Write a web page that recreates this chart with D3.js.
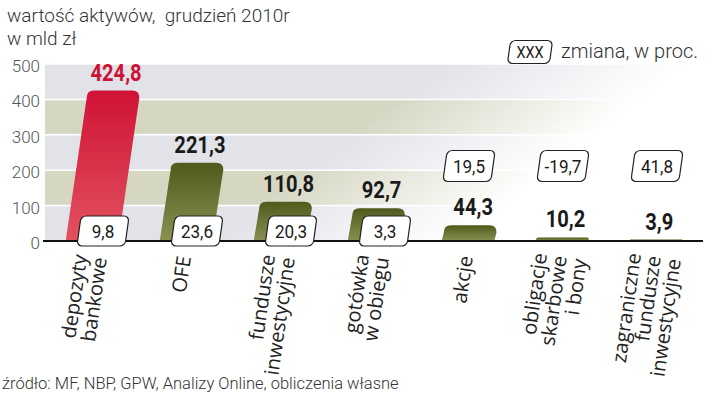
<!DOCTYPE html>
<html>
<head>
<meta charset="utf-8">
<script src="https://cdn.jsdelivr.net/npm/d3@7"></script>
<style>
  html, body { margin: 0; padding: 0; background: #fff; }
  svg { display: block; font-family: Roboto, "Noto Sans", sans-serif; }
  .pre { white-space: pre; }
</style>
</head>
<body>
<svg id="viz" width="720" height="399"></svg>
<script>
// ----- data -----
const categories = [
  ["depozyty", "bankowe"],
  ["OFE"],
  ["fundusze", "inwestycyjne"],
  ["gotówka", "w obiegu"],
  ["akcje"],
  ["obligacje", "skarbowe", "i bony"],
  ["zagraniczne", "fundusze", "inwestycyjne"]
];
const values  = [424.8, 221.3, 110.8, 92.7, 44.3, 10.2, 3.9];
const changes = [9.8, 23.6, 20.3, 3.3, 19.5, -19.7, 41.8];
const yTicks  = [0, 100, 200, 300, 400, 500];

const fmt = v => String(v).replace(".", ",");
const svg = d3.select("#viz");

// plot area
const plotL = 45, plotR = 703, base = 241, plotT = 64;
const keys = categories.map(c => c.join(" "));
const x = d3.scaleBand().domain(keys).range([plotL, plotR]).paddingInner(0.44).paddingOuter(0.22);
const y = d3.scaleLinear().domain([0, 500]).range([base, plotT]);
const slant = 0.14;   // bars lean to the right

// ----- defs: gradients + fade mask -----
const defs = svg.append("defs");
function vGrad(id, c0, c1) {
  const g = defs.append("linearGradient").attr("id", id)
    .attr("x1", 0).attr("y1", 0).attr("x2", 0).attr("y2", 1);
  g.append("stop").attr("offset", "0%").attr("stop-color", c0);
  g.append("stop").attr("offset", "100%").attr("stop-color", c1);
}
vGrad("gRed", "#cf1236", "#e2525f");
vGrad("gOlive", "#4f5a1c", "#8a9152");

const fade = defs.append("linearGradient").attr("id", "fade")
  .attr("gradientUnits", "userSpaceOnUse")
  .attr("x1", 194).attr("y1", 255).attr("x2", 284).attr("y2", 373);
fade.append("stop").attr("offset", "0%").attr("stop-color", "#fff");
fade.append("stop").attr("offset", "100%").attr("stop-color", "#000");
defs.append("mask").attr("id", "fadeMask")
  .attr("maskUnits", "userSpaceOnUse")
  .attr("x", 0).attr("y", 0).attr("width", 720).attr("height", 399)
  .append("rect").attr("x", 0).attr("y", 0).attr("width", 720).attr("height", 399)
  .attr("fill", "url(#fade)");

// ----- background bands -----
const bands = svg.append("g").attr("mask", "url(#fadeMask)");
bands.selectAll("rect").data(d3.range(5)).join("rect")
  .attr("x", plotL).attr("width", plotR - plotL)
  .attr("y", i => y((i + 1) * 100)).attr("height", i => y(i * 100) - y((i + 1) * 100))
  .attr("fill", i => i % 2 === 0 ? "#e1e3e9" : "#d6d7c3");

// white gridlines
svg.append("g").selectAll("line").data(yTicks.slice(1)).join("line")
  .attr("x1", plotL).attr("x2", plotR)
  .attr("y1", d => y(d)).attr("y2", d => y(d))
  .attr("stroke", "#fff").attr("stroke-width", 1.5);

// y tick labels
svg.append("g").selectAll("text").data(yTicks).join("text")
  .attr("x", 40).attr("y", d => y(d) + 8)
  .attr("text-anchor", "end")
  .attr("font-size", 17).attr("font-weight", 300).attr("fill", "#555")
  .text(d => d);

// ----- bars -----
function barPath(cx, w, h, r) {
  // skewed column with rounded top corners
  const x0 = cx - w / 2, s = slant * h;
  const p = d3.path();
  p.moveTo(x0, base);
  p.lineTo(x0 + s, base - h + r);
  p.quadraticCurveTo(x0 + s, base - h, x0 + s + r, base - h);
  p.lineTo(x0 + s + w - r, base - h);
  p.quadraticCurveTo(x0 + s + w, base - h, x0 + s + w, base - h + r);
  p.lineTo(x0 + w, base);
  p.closePath();
  return p.toString();
}

const bw = x.bandwidth();
svg.append("g").selectAll("path").data(values).join("path")
  .attr("d", (d, i) => barPath(x(keys[i]) + bw / 2, bw, base - y(d), Math.min(7, (base - y(d)) / 2)))
  .attr("fill", (d, i) => i === 0 ? "url(#gRed)" : "url(#gOlive)");

// baseline
svg.append("line")
  .attr("x1", 43).attr("x2", plotR).attr("y1", base).attr("y2", base)
  .attr("stroke", "#111").attr("stroke-width", 2);

// value labels (bold, squeezed to look condensed)
svg.append("g").selectAll("text").data(values).join("text")
  .attr("transform", (d, i) =>
    `translate(${x(keys[i]) + bw / 2 + slant * (base - y(d)) + 3},${y(d) - 10}) scale(0.84,1)`)
  .attr("text-anchor", "middle")
  .attr("font-size", 24).attr("font-weight", 700)
  .attr("fill", (d, i) => i === 0 ? "#cc1236" : "#1a1a1a")
  .text(fmt);

// ----- change boxes -----
function changeBox(g, cx, cy, w, h, label, fs) {
  const b = g.append("g").attr("transform", `translate(${cx},${cy})`);
  b.append("rect")
    .attr("x", -w / 2).attr("y", -h / 2).attr("width", w).attr("height", h)
    .attr("rx", 5)
    .attr("transform", "skewX(-8)")
    .attr("fill", "#fff").attr("stroke", "#222").attr("stroke-width", 1.2);
  b.append("text")
    .attr("transform", `translate(0,${fs * 0.36}) scale(0.9,1)`)
    .attr("text-anchor", "middle")
    .attr("font-size", fs).attr("fill", "#1a1a1a")
    .text(label);
}
const boxes = svg.append("g");
changes.forEach((c, i) => {
  const cx = x(keys[i]) + bw / 2;
  if (values[i] > 50) changeBox(boxes, cx + 11, 231, 48, 30, fmt(c), 19);
  else changeBox(boxes, cx + 1, 166, 48, 31, fmt(c), 19);
});

// ----- category labels (rotated, slightly leaning) -----
const lh = 20;
const cat = svg.append("g").selectAll("g").data(categories).join("g")
  .attr("transform", (d, i) => `translate(${x(keys[i]) + bw / 2 - 2},256) rotate(-82)`);
cat.each(function(lines) {
  const t = d3.select(this).append("text")
    .attr("text-anchor", "end")
    .attr("font-family", "'Open Sans', sans-serif")
    .attr("font-size", 20).attr("fill", "#222");
  lines.forEach((ln, j) => {
    t.append("tspan").attr("x", 0)
      .attr("y", (j - (lines.length - 1) / 2) * lh + 7)
      .text(ln);
  });
});

// ----- titles, legend, source -----
svg.append("text").attr("class", "pre")
  .attr("x", 7).attr("y", 22)
  .attr("font-size", 19).attr("font-weight", 300).attr("fill", "#333")
  .text("wartość aktywów,  grudzień 2010r");
svg.append("text")
  .attr("x", 7).attr("y", 45)
  .attr("font-size", 19).attr("font-weight", 300).attr("fill", "#333")
  .text("w mld zł");

changeBox(svg, 530, 52, 42, 23, "XXX", 16);
svg.append("text")
  .attr("x", 561).attr("y", 58)
  .attr("font-size", 20).attr("font-weight", 300).attr("fill", "#333")
  .text("zmiana, w proc.");

svg.append("text")
  .attr("x", 2).attr("y", 389)
  .attr("font-size", 16.5).attr("font-weight", 300).attr("fill", "#333")
  .text("źródło: MF, NBP, GPW, Analizy Online, obliczenia własne");
</script>
</body>
</html>
